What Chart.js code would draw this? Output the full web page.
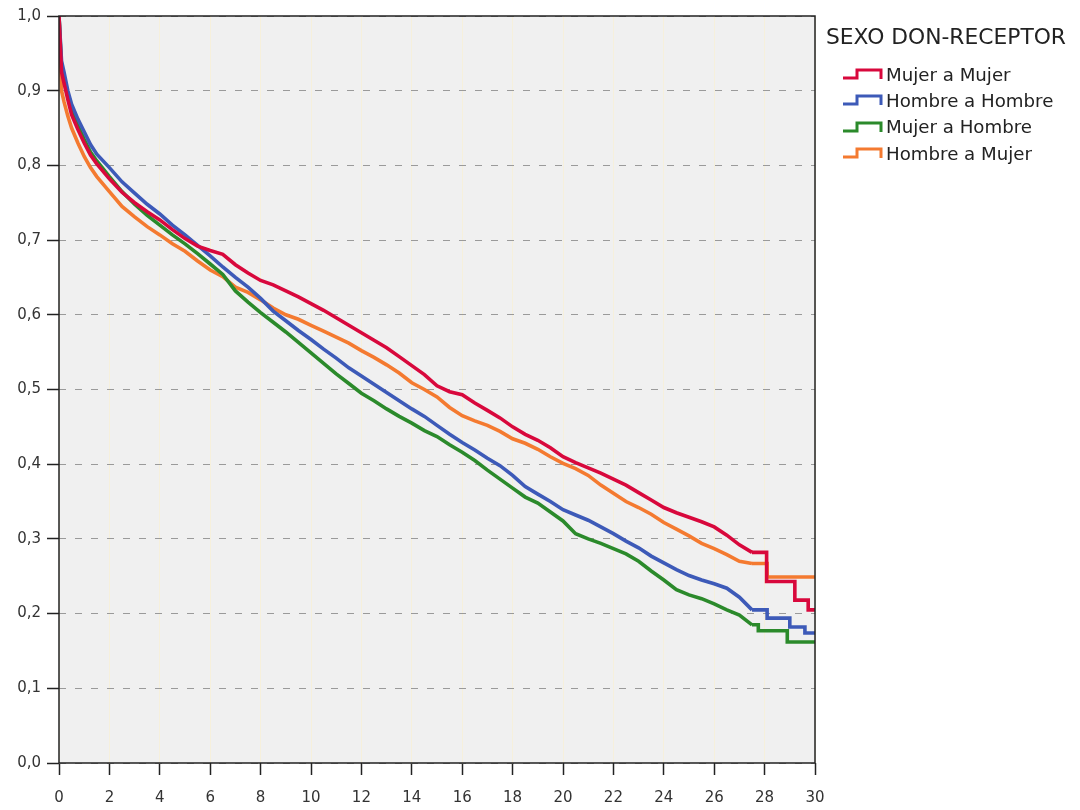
<!DOCTYPE html>
<html>
<head>
<meta charset="utf-8">
<script src="https://cdn.jsdelivr.net/npm/chart.js@4.4.1/dist/chart.umd.min.js"></script>
<style>
  body { margin: 0; background: #fff; }
  #wrap { position: relative; width: 1080px; height: 810px; }
  #legend { position: absolute; left: 826px; top: 23px; font-family: "DejaVu Sans", sans-serif; color: #222; }
  #legend .ttl { font-size: 21.8px; line-height: 27px; margin-bottom: 11px; white-space: nowrap; }
  #legend .row { display: flex; align-items: center; height: 26.3px; font-size: 18.2px; margin-left: 15px; white-space: nowrap; }
  #legend svg { margin-right: 3px; }
</style>
</head>
<body>
<div id="wrap">
  <canvas id="chart-km" width="1080" height="810"></canvas>
  <div id="legend"></div>
</div>
<script>
// tiempo (eje x) y supervivencia acumulada
const months = [0, 0.1, 0.2, 0.35, 0.5, 0.75, 1, 1.25, 1.5, 2, 2.5, 3, 3.5, 4, 4.5, 5, 5.5, 6, 6.5, 7, 7.5,
  8, 8.5, 9, 9.5, 10, 10.5, 11, 11.5, 12, 12.5, 13, 13.5, 14, 14.5, 15, 15.5, 16, 16.5, 17, 17.5,
  18, 18.5, 19, 19.5, 20, 20.5, 21, 21.5, 22, 22.5, 23, 23.5, 24, 24.5, 25, 25.5, 26, 26.5, 27, 27.5];

const mujerMujer = [1, 0.925, 0.91, 0.888, 0.868, 0.848, 0.830, 0.814, 0.802, 0.782, 0.764, 0.750, 0.738, 0.727, 0.714, 0.702, 0.692, 0.686, 0.681, 0.667, 0.656,
  0.646, 0.640, 0.632, 0.624, 0.615, 0.606, 0.596, 0.586, 0.576, 0.566, 0.556, 0.544, 0.532, 0.520, 0.505, 0.497, 0.493, 0.482, 0.472, 0.462,
  0.450, 0.440, 0.432, 0.422, 0.410, 0.402, 0.395, 0.388, 0.380, 0.372, 0.362, 0.352, 0.342, 0.335, 0.329, 0.323, 0.316, 0.305, 0.292, 0.282];
const hombreHombre = [1, 0.94, 0.925, 0.90, 0.882, 0.862, 0.845, 0.828, 0.815, 0.797, 0.778, 0.763, 0.748, 0.735, 0.720, 0.707, 0.693, 0.679, 0.664, 0.650, 0.637,
  0.622, 0.605, 0.592, 0.579, 0.567, 0.554, 0.542, 0.529, 0.518, 0.507, 0.496, 0.485, 0.474, 0.464, 0.452, 0.440, 0.429, 0.419, 0.408, 0.398,
  0.385, 0.370, 0.360, 0.350, 0.339, 0.332, 0.325, 0.316, 0.307, 0.297, 0.288, 0.277, 0.268, 0.259, 0.251, 0.245, 0.240, 0.234, 0.222, 0.205];
const mujerHombre = [1, 0.93, 0.915, 0.893, 0.874, 0.853, 0.835, 0.818, 0.806, 0.785, 0.765, 0.748, 0.733, 0.720, 0.707, 0.695, 0.682, 0.668, 0.654, 0.632, 0.617,
  0.603, 0.590, 0.577, 0.563, 0.549, 0.535, 0.521, 0.508, 0.495, 0.485, 0.474, 0.464, 0.455, 0.445, 0.437, 0.426, 0.416, 0.405, 0.392, 0.380,
  0.368, 0.356, 0.348, 0.336, 0.324, 0.307, 0.300, 0.294, 0.287, 0.280, 0.270, 0.257, 0.245, 0.232, 0.225, 0.220, 0.213, 0.205, 0.198, 0.185];
const hombreMujer = [1, 0.90, 0.885, 0.866, 0.850, 0.830, 0.812, 0.797, 0.785, 0.765, 0.745, 0.731, 0.718, 0.707, 0.695, 0.685, 0.672, 0.660, 0.651, 0.637, 0.630,
  0.620, 0.609, 0.600, 0.594, 0.586, 0.578, 0.570, 0.562, 0.552, 0.543, 0.533, 0.522, 0.509, 0.500, 0.490, 0.476, 0.465, 0.458, 0.452, 0.444,
  0.434, 0.428, 0.420, 0.410, 0.401, 0.394, 0.385, 0.372, 0.361, 0.350, 0.342, 0.333, 0.322, 0.313, 0.304, 0.294, 0.287, 0.279, 0.270, 0.267];

// últimos escalones (tiempo, supervivencia)
const tailMujerMujer = [[28.08, 0.243], [29.2, 0.218], [29.73, 0.205], [30, 0.205]];
const tailHombreHombre = [[28.1, 0.194], [29.0, 0.182], [29.6, 0.174], [30, 0.174]];
const tailMujerHombre = [[27.75, 0.177], [28.9, 0.162], [30, 0.162]];
const tailHombreMujer = [[28.1, 0.249], [30, 0.249]];

const xTicks = [0, 2, 4, 6, 8, 10, 12, 14, 16, 18, 20, 22, 24, 26, 28, 30];

const groups = ["Mujer a Mujer", "Hombre a Hombre", "Mujer a Hombre", "Hombre a Mujer"];
const colors = ["#d8083c", "#3d5ab8", "#2b8a2b", "#f47a30"];
const mains = [mujerMujer, hombreHombre, mujerHombre, hombreMujer];
const tails = [tailMujerMujer, tailHombreHombre, tailMujerHombre, tailHombreMujer];

const datasets = [];
mains.forEach((vals, i) => {
  const pts = months.map((m, k) => ({ x: m, y: vals[k] }));
  // tramo denso: muchos escalones pequeños, se dibuja como línea
  datasets.push({ label: groups[i], data: pts, borderColor: colors[i], borderWidth: 3.6,
    pointRadius: 0, fill: false, tension: 0 });
  // tramo final: escalones visibles
  const last = pts[pts.length - 1];
  const tailPts = [last].concat(tails[i].map(p => ({ x: p[0], y: p[1] })));
  datasets.push({ label: groups[i], data: tailPts, borderColor: colors[i], borderWidth: 3.6,
    pointRadius: 0, fill: false, stepped: true });
});

const plotBg = {
  id: "plotBg",
  beforeDraw(chart) {
    const { ctx, chartArea: a } = chart;
    ctx.save();
    ctx.fillStyle = "#f0f0f0";
    ctx.fillRect(a.left, a.top, a.right - a.left, a.bottom - a.top);
    ctx.restore();
  },
  afterDraw(chart) {
    const { ctx, chartArea: a } = chart;
    ctx.save();
    ctx.strokeStyle = "#222";
    ctx.lineWidth = 1.5;
    ctx.strokeRect(a.left, a.top, a.right - a.left, a.bottom - a.top);
    ctx.restore();
  }
};

const tickFont = { family: "DejaVu Sans", size: 15 };

new Chart(document.getElementById("chart-km"), {
  type: "line",
  data: { datasets },
  options: {
    responsive: false,
    animation: false,
    layout: { padding: { top: 16, right: 265, left: 0, bottom: 0 } },
    plugins: { legend: { display: false }, tooltip: { enabled: false } },
    scales: {
      x: {
        type: "linear",
        min: 0,
        max: 30,
        afterBuildTicks: (s) => { s.ticks = xTicks.map(v => ({ value: v })); },
        afterFit: (s) => { s.height = 47; },
        ticks: { font: tickFont, color: "#333", padding: 14, autoSkip: false, maxRotation: 0 },
        grid: { color: "#f6f0dc", lineWidth: 1, tickColor: "#222", tickLength: 12, tickWidth: 1.5 },
        border: { display: false },
      },
      y: {
        min: 0,
        max: 1,
        afterFit: (s) => { s.width = 59; },
        ticks: { stepSize: 0.1, font: tickFont, color: "#333", padding: 6,
          callback: (v) => v.toFixed(1).replace(".", ",") },
        grid: { color: "#9a9a9a", lineWidth: 1, tickColor: "#222", tickLength: 12, tickWidth: 1.5, tickBorderDash: [] },
        border: { display: false, dash: [7, 9] },
      },
    },
  },
  plugins: [plotBg],
});

// leyenda con el símbolo de escalón
const legend = document.getElementById("legend");
legend.innerHTML = '<div class="ttl">SEXO DON-RECEPTOR</div>' + groups.map((g, i) =>
  '<div class="row"><svg width="42" height="14"><path d="M2 11 H16 V3 H40 V12" fill="none" stroke="' +
  colors[i] + '" stroke-width="3"/></svg>' + g + '</div>').join("");
</script>
</body>
</html>
